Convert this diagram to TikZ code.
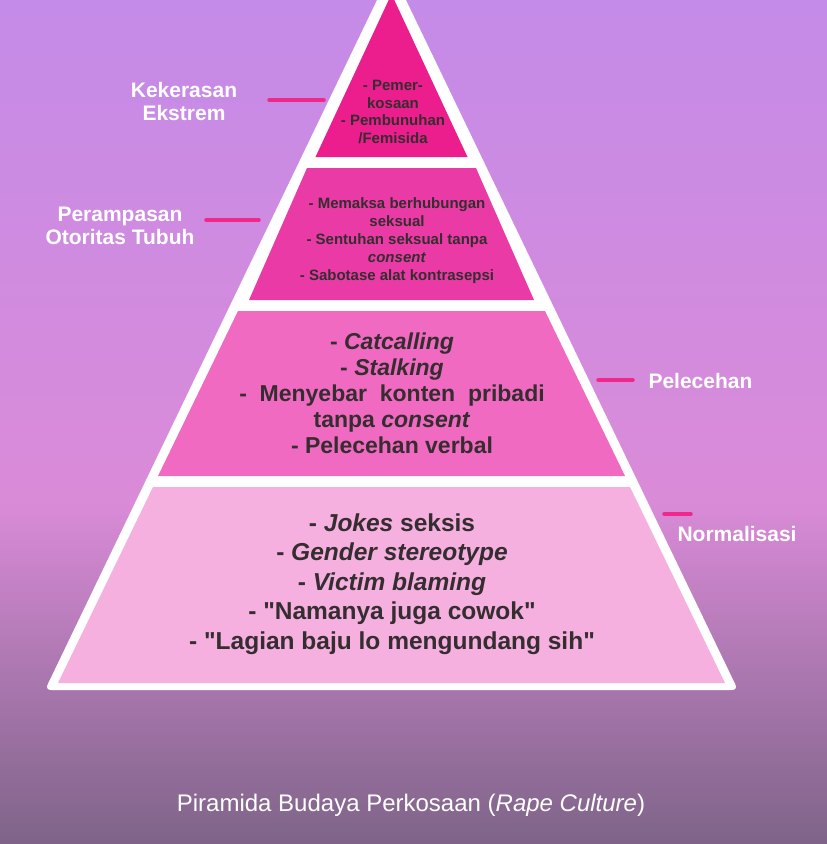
\documentclass[tikz,border=0pt]{standalone}
\usepackage{fontspec}
\setmainfont{Liberation Sans}
\begin{document}
\begin{tikzpicture}[x=1pt,y=-1pt,
  tt/.style={align=center,text=black!92!magenta,font=\bfseries},
  lab/.style={align=center,text=white,font=\bfseries\fontsize{21}{23}\selectfont},
  pinkmark/.style={line width=3.5pt,line cap=round,draw=mk}]
\definecolor{bgtop}{HTML}{C48BE8}
\definecolor{bgmid}{HTML}{DA8BD8}
\definecolor{bgbot}{HTML}{7E6488}
\definecolor{t1}{HTML}{EC1E8E}
\definecolor{t2}{HTML}{EA3AA6}
\definecolor{t3}{HTML}{F06AC2}
\definecolor{t4}{HTML}{F5B0E0}
\definecolor{mk}{HTML}{F0288C}
\useasboundingbox (0,0) rectangle (827,844);
\clip (0,0) rectangle (827,844);
\shade[top color=bgtop,bottom color=bgmid] (0,0) rectangle (827,500);
\shade[top color=bgmid,bottom color=bgbot] (0,500) rectangle (827,844);
% white pyramid
\fill[white,rounded corners=6pt] (391.5,-30) -- (738,690) -- (45,690) -- cycle;
% tiers
\fill[t1] (391.5,-6) -- (467.5,157) -- (315.5,157) -- cycle;
\fill[t2] (307,168) -- (476,168) -- (534,300) -- (249,300) -- cycle;
\fill[t3] (238,311) -- (545,311) -- (625,476) -- (158,476) -- cycle;
\fill[t4] (153,487) -- (630,487) -- (725,683) -- (58,683) -- cycle;
% tier texts
\node[tt,font=\bfseries\fontsize{15}{17.5}\selectfont] (x1) at (393,112) {- Pemer-\\kosaan\\- Pembunuhan\\/Femisida};
\node[tt,font=\bfseries\fontsize{15}{18}\selectfont] (x2) at (397,241) {- Memaksa berhubungan\\seksual\\- Sentuhan seksual tanpa\\\textit{consent}\\- Sabotase alat kontrasepsi};
\node[tt,font=\bfseries\fontsize{23}{26}\selectfont] (x3) at (392,393) {- \textit{Catcalling}\\- \textit{Stalking}\\-\ \ Menyebar\ \ konten\ \ pribadi\\tanpa \textit{consent}\\- Pelecehan verbal};
\node[tt,font=\bfseries\fontsize{24.5}{29.5}\selectfont] (x4) at (392,584) {- \textit{Jokes} seksis\\- \textit{Gender stereotype}\\- \textit{Victim blaming}\\- \textquotedbl Namanya juga cowok\textquotedbl\\- \textquotedbl Lagian baju lo mengundang sih\textquotedbl};
% side labels
\node[lab] (l1) at (184,101) {Kekerasan\\Ekstrem};
\node[lab] (l2) at (120,226) {Perampasan\\Otoritas Tubuh};
\node[lab,anchor=west] (l3) at (645,381) {Pelecehan};
\node[lab,anchor=west] (l4) at (674,534) {Normalisasi};
\coordinate (m1a) at (269,100); \coordinate (m1b) at (324,100);
\coordinate (m2a) at (206,220); \coordinate (m2b) at (259,220);
\coordinate (m3a) at (598,380); \coordinate (m3b) at (633,380);
\coordinate (m4a) at (664,514); \coordinate (m4b) at (691,514);
\draw[pinkmark] (m1a) -- (m1b);
\draw[pinkmark] (m2a) -- (m2b);
\draw[pinkmark] (m3a) -- (m3b);
\draw[pinkmark] (m4a) -- (m4b);
\node[text=white,font=\fontsize{24}{26}\selectfont] (cap) at (411,805) {Piramida Budaya Perkosaan (\textit{Rape Culture})};
\end{tikzpicture}
\end{document}
